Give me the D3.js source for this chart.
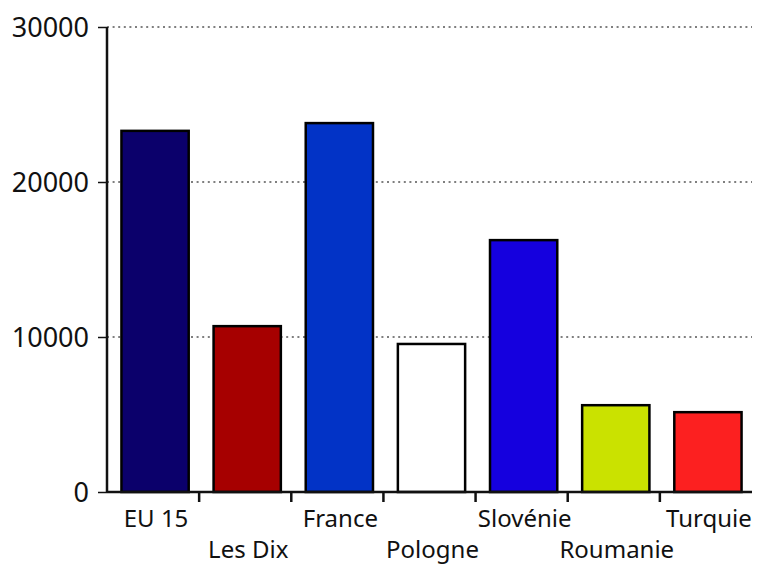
<!DOCTYPE html>
<html>
<head>
<meta charset="utf-8">
<script src="https://cdn.jsdelivr.net/npm/d3@7"></script>
<style>
  body { margin: 0; background: #fff; }
  text { font-family: "Noto Sans", sans-serif; fill: #111; }
</style>
</head>
<body>
<script>
const WIDTH = 757;
const HEIGHT = 565;

const categories = ["EU 15", "Les Dix", "France", "Pologne", "Slovénie", "Roumanie", "Turquie"];
const values = [23300, 10700, 23800, 9550, 16250, 5600, 5150];
const colors = ["#0b006b", "#a60000", "#0233c6", "#ffffff", "#1500de", "#cae200", "#fc2020"];
const yTicks = [0, 10000, 20000, 30000];

const margin = { left: 107, right: 5, top: 27, bottom: 73 };

const svg = d3.select("body")
    .append("svg")
    .attr("width", WIDTH)
    .attr("height", HEIGHT);

const x = d3.scaleBand()
    .domain(categories)
    .range([margin.left, WIDTH - margin.right])
    .padding(0);

const y = d3.scaleLinear()
    .domain([0, 30000])
    .range([HEIGHT - margin.bottom, margin.top]);

// Dotted gridlines
svg.append("g")
    .selectAll("line")
    .data(yTicks.filter(d => d > 0))
    .join("line")
    .attr("x1", margin.left)
    .attr("x2", WIDTH - margin.right)
    .attr("y1", d => y(d))
    .attr("y2", d => y(d))
    .attr("stroke", "#555")
    .attr("stroke-width", 1.6)
    .attr("stroke-dasharray", "2,3.6");

// Bars
const barWidth = x.bandwidth() * 0.73;
svg.append("g")
    .selectAll("rect")
    .data(categories)
    .join("rect")
    .attr("x", (d) => x(d) + (x.bandwidth() - barWidth) / 2 + 2)
    .attr("y", (d, i) => y(values[i]))
    .attr("width", barWidth)
    .attr("height", (d, i) => y(0) - y(values[i]))
    .attr("fill", (d, i) => colors[i])
    .attr("stroke", "#000")
    .attr("stroke-width", 2.5);

// Y axis
const yAxis = svg.append("g")
    .attr("transform", `translate(${margin.left},0)`)
    .call(d3.axisLeft(y).tickValues(yTicks).tickSize(9).tickPadding(9).tickFormat(d3.format("d")));
yAxis.select(".domain").attr("stroke", "#111").attr("stroke-width", 2.5).attr("d", `M0,${y(30000)}V${y(0)}`);
yAxis.selectAll(".tick line").attr("stroke", "#111").attr("stroke-width", 1.5);
yAxis.selectAll(".tick text")
    .attr("font-size", 27)
    .attr("font-family", "Noto Sans")
    .attr("fill", "#111")
    .attr("dy", "0.34em");

// X axis: ticks only at the inner band boundaries
svg.append("line")
    .attr("x1", margin.left)
    .attr("x2", WIDTH - margin.right)
    .attr("y1", y(0))
    .attr("y2", y(0))
    .attr("stroke", "#111")
    .attr("stroke-width", 2.5);

svg.append("g")
    .selectAll("line")
    .data(categories.slice(1))
    .join("line")
    .attr("x1", d => x(d))
    .attr("x2", d => x(d))
    .attr("y1", y(0))
    .attr("y2", y(0) + 10)
    .attr("stroke", "#111")
    .attr("stroke-width", 2.5);

// Category labels alternate between two rows
svg.append("g")
    .selectAll("text")
    .data(categories)
    .join("text")
    .attr("x", d => x(d) + x.bandwidth() / 2 + 3)
    .attr("y", (d, i) => i % 2 === 0 ? 527 : 558)
    .attr("text-anchor", "middle")
    .attr("font-size", 24)
    .text(d => d);
</script>
</body>
</html>
